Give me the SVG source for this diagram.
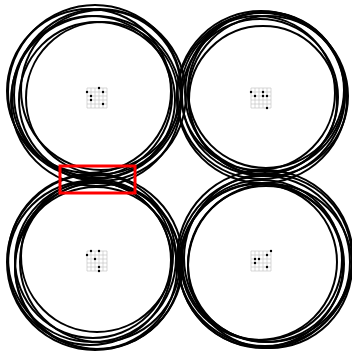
<svg xmlns="http://www.w3.org/2000/svg" width="352" height="351" viewBox="0 0 352 351">
<style>
.ring{fill:none;stroke:#000;stroke-width:2}
.grid{fill:none;stroke:#bdbdbd;stroke-width:0.6}
.dot{fill:#000}
.hl{fill:none;stroke:#f00;stroke-width:3}
</style>
<defs>
<g id="gridpat">
<path class="grid" d="M0 0H20M0 4H20M0 8H20M0 12H20M0 16H20M0 20H20M0 0V20M4 0V20M8 0V20M12 0V20M16 0V20M20 0V20"/>
</g>
</defs>
<rect width="352" height="351" fill="#fff"/>
<g id="cluster-tl">
<circle class="ring" cx="95" cy="92" r="87"/>
<circle class="ring" cx="100" cy="95" r="86"/>
<circle class="ring" cx="92" cy="96" r="80"/>
<circle class="ring" cx="101" cy="90" r="80"/>
<circle class="ring" cx="97" cy="100" r="78"/>
<circle class="ring" cx="89" cy="91" r="82"/>
<circle class="ring" cx="102" cy="98" r="76"/>
<circle class="ring" cx="96" cy="101" r="85"/>
<use href="#gridpat" x="87" y="88"/>
<circle class="dot" cx="87" cy="92" r="1.2"/>
<circle class="dot" cx="99" cy="88" r="1.2"/>
<circle class="dot" cx="103" cy="92" r="1.2"/>
<circle class="dot" cx="91" cy="96" r="1.2"/>
<circle class="dot" cx="91" cy="100" r="1.2"/>
<circle class="dot" cx="103" cy="104" r="1.2"/>
</g>
<g id="cluster-tr">
<circle class="ring" cx="261" cy="95" r="84"/>
<circle class="ring" cx="265" cy="92" r="80"/>
<circle class="ring" cx="260" cy="97" r="78"/>
<circle class="ring" cx="268" cy="96" r="80"/>
<circle class="ring" cx="263" cy="100" r="74"/>
<circle class="ring" cx="258" cy="93" r="77"/>
<circle class="ring" cx="266" cy="90" r="78"/>
<circle class="ring" cx="262" cy="98" r="85"/>
<use href="#gridpat" x="251" y="88"/>
<circle class="dot" cx="251" cy="92" r="1.2"/>
<circle class="dot" cx="255" cy="96" r="1.2"/>
<circle class="dot" cx="263" cy="92" r="1.2"/>
<circle class="dot" cx="263" cy="96" r="1.2"/>
<circle class="dot" cx="267" cy="96" r="1.2"/>
<circle class="dot" cx="267" cy="108" r="1.2"/>
</g>
<g id="cluster-bl">
<circle class="ring" cx="95" cy="262" r="88"/>
<circle class="ring" cx="92" cy="258" r="84"/>
<circle class="ring" cx="98" cy="266" r="83"/>
<circle class="ring" cx="93" cy="260" r="78"/>
<circle class="ring" cx="100" cy="262" r="80"/>
<circle class="ring" cx="96" cy="268" r="81"/>
<circle class="ring" cx="90" cy="263" r="82"/>
<circle class="ring" cx="97" cy="256" r="76"/>
<use href="#gridpat" x="87" y="251"/>
<circle class="dot" cx="91" cy="251" r="1.2"/>
<circle class="dot" cx="99" cy="251" r="1.2"/>
<circle class="dot" cx="87" cy="255" r="1.2"/>
<circle class="dot" cx="95" cy="259" r="1.2"/>
<circle class="dot" cx="99" cy="267" r="1.2"/>
<circle class="dot" cx="99" cy="271" r="1.2"/>
</g>
<g id="cluster-br">
<circle class="ring" cx="264" cy="262" r="86"/>
<circle class="ring" cx="268" cy="258" r="84"/>
<circle class="ring" cx="261" cy="265" r="82"/>
<circle class="ring" cx="266" cy="264" r="78"/>
<circle class="ring" cx="262" cy="260" r="80"/>
<circle class="ring" cx="270" cy="266" r="82"/>
<circle class="ring" cx="259" cy="262" r="78"/>
<circle class="ring" cx="265" cy="258" r="88"/>
<use href="#gridpat" x="251" y="251"/>
<circle class="dot" cx="271" cy="251" r="1.2"/>
<circle class="dot" cx="267" cy="255" r="1.2"/>
<circle class="dot" cx="255" cy="259" r="1.2"/>
<circle class="dot" cx="259" cy="259" r="1.2"/>
<circle class="dot" cx="255" cy="263" r="1.2"/>
<circle class="dot" cx="267" cy="267" r="1.2"/>
</g>
<g id="highlight">
<rect class="hl" x="60" y="166" width="75" height="27"/>
</g>
</svg>
